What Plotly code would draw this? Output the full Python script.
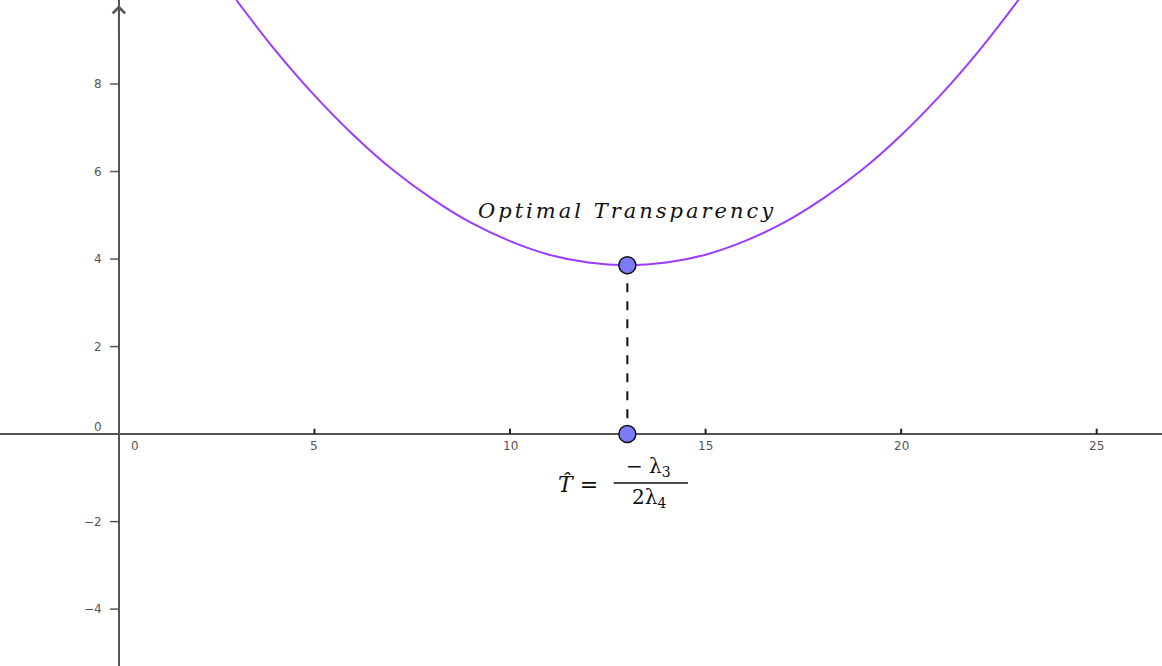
import plotly.graph_objects as go

# Curve points
curve_x = [3.0, 4.0, 5.0, 6.0, 7.0, 8.0, 9.0, 10.0, 11.0, 12.0, 13.0, 14.0, 15.0, 16.0, 17.0, 18.0, 19.0, 20.0, 21.0, 22.0, 23.0]
curve_y = [9.92, 8.77, 7.74, 6.83, 6.04, 5.38, 4.83, 4.41, 4.10, 3.92, 3.86, 3.92, 4.10, 4.41, 4.83, 5.38, 6.04, 6.83, 7.74, 8.77, 9.92]

# Optimum point and its projection onto the axis
opt_x = [13.0, 13.0]
opt_y = [3.86, 0.0]

x_ticks = [5, 10, 15, 20, 25]
x_tick_labels = ["5", "10", "15", "20", "25"]
y_ticks = [-4, -2, 2, 4, 6, 8]
y_tick_labels = ["−4", "−2", "2", "4", "6", "8"]

x_range = [-3.04, 26.67]
y_range = [-5.30, 9.92]

axis_col = "#555555"
tick_font = dict(family="DejaVu Sans", size=12, color="#555555")

fig = go.Figure()

fig.add_trace(go.Scatter(x=curve_x, y=curve_y, mode="lines", line=dict(color="#9a3dff", width=2, shape="spline"),
                         hoverinfo="skip", showlegend=False))

fig.add_trace(go.Scatter(x=opt_x, y=opt_y, mode="lines", line=dict(color="#111111", width=2, dash="dash"),
                         hoverinfo="skip", showlegend=False))

fig.add_trace(go.Scatter(x=opt_x, y=opt_y, mode="markers",
                         marker=dict(size=17, color="#7b7bf5", line=dict(color="#111111", width=1.5)),
                         hoverinfo="skip", showlegend=False))

# Tick marks
fig.add_trace(go.Scatter(x=[-0.1] * len(y_ticks), y=y_ticks, mode="markers",
                         marker=dict(symbol="line-ew", size=7, line=dict(color=axis_col, width=1.5)),
                         hoverinfo="skip", showlegend=False))
fig.add_trace(go.Scatter(x=x_ticks, y=[0.06] * len(x_ticks), mode="markers",
                         marker=dict(symbol="line-ns", size=4, line=dict(color="#222222", width=2)),
                         hoverinfo="skip", showlegend=False))

# Tick labels
for v, t in zip(x_ticks, x_tick_labels):
    fig.add_annotation(x=v, y=-0.27, text=t, showarrow=False, font=tick_font, xanchor="center", yanchor="middle")
fig.add_annotation(x=0.41, y=-0.27, text="0", showarrow=False, font=tick_font, xanchor="center", yanchor="middle")
for v, t in zip(y_ticks, y_tick_labels):
    fig.add_annotation(x=-0.38, y=v, text=t, showarrow=False, font=tick_font, xanchor="right", yanchor="middle")
fig.add_annotation(x=-0.38, y=0.16, text="0", showarrow=False, font=tick_font, xanchor="right", yanchor="middle")

# Arrow at top of y axis
fig.add_annotation(x=0, y=y_range[1] - 0.12, ax=0, ay=30, xref="x", yref="y", showarrow=True,
                   arrowhead=4, arrowsize=1.2, arrowwidth=2, arrowcolor=axis_col, text="")

serif = "DejaVu Serif"
fig.add_annotation(x=12.99, y=5.10,
                   text="<span style=\"letter-spacing:3px\"><i>Optimal Transparency</i></span>",
                   showarrow=False, font=dict(family=serif, size=21, color="#111111"))

# Formula  T̂ = −λ3 / 2λ4
fig.add_annotation(x=11.74, y=-1.15, text="<i>T̂</i> =", showarrow=False,
                   font=dict(family=serif, size=22, color="#111111"))
fig.add_annotation(x=13.55, y=-0.75, text="− λ<sub>3</sub>", showarrow=False,
                   font=dict(family=serif, size=20, color="#111111"))
fig.add_annotation(x=13.55, y=-1.45, text="2λ<sub>4</sub>", showarrow=False,
                   font=dict(family=serif, size=20, color="#111111"))
fig.add_shape(type="line", x0=12.65, x1=14.55, y0=-1.12, y1=-1.12, xref="x", yref="y",
              line=dict(color="#111111", width=1.5))

fig.update_xaxes(range=x_range, showgrid=False, showticklabels=False, ticks="",
                 zeroline=True, zerolinecolor=axis_col, zerolinewidth=2, showline=False)
fig.update_yaxes(range=y_range, showgrid=False, showticklabels=False, ticks="",
                 zeroline=True, zerolinecolor=axis_col, zerolinewidth=2, showline=False)

fig.update_layout(width=1162, height=666, margin=dict(l=0, r=0, t=0, b=0),
                  plot_bgcolor="white", paper_bgcolor="white")

fig.write_html("out.html", config={"displayModeBar": False},
               post_script="document.body.style.margin='0';")
